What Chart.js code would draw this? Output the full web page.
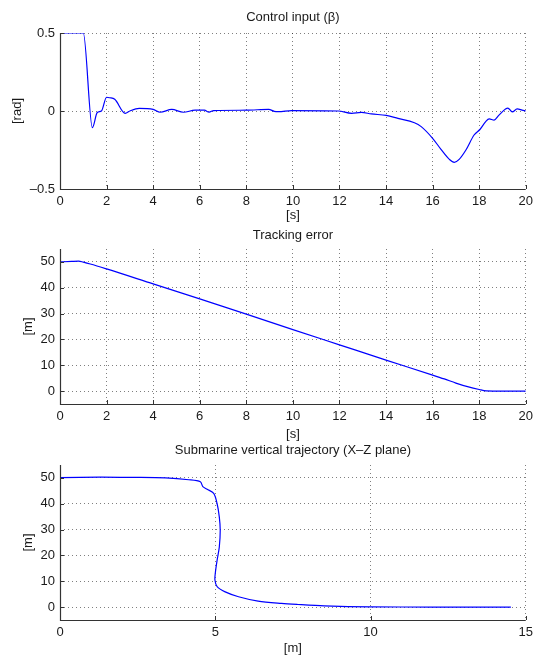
<!DOCTYPE html>
<html>
<head>
<meta charset="utf-8">
<script src="https://cdn.jsdelivr.net/npm/chart.js@4"></script>
<style>
  html, body { margin: 0; padding: 0; background: #fff; }
  #wrap { position: relative; width: 538px; height: 655px; overflow: hidden; }
  canvas { position: absolute; left: 0; }
</style>
</head>
<body>
<div id="wrap">
  <canvas id="c1" width="538" height="222" style="top:0px"></canvas>
  <canvas id="c2" width="538" height="220" style="top:222px"></canvas>
  <canvas id="c3" width="538" height="213" style="top:442px"></canvas>
</div>
<script>
// ---- Data: control input beta [rad] vs time [s]
const betaTime = [0, 1.0, 1.39, 1.6, 1.78, 2.0, 2.13, 2.35, 2.8, 3.0, 3.4, 4.0, 4.3, 4.8, 5.3, 5.8, 6.2, 6.4, 6.6, 8.0, 8.96, 9.2, 9.38, 9.95, 11.95, 12.52, 12.94, 13.37, 14.01, 14.51, 15.22, 15.51, 16.0, 16.36, 16.72, 16.93, 17.14, 17.43, 17.78, 18.04, 18.28, 18.43, 18.64, 18.85, 19.13, 19.23, 19.42, 19.63, 19.84, 20];
const betaValues = [0.5, 0.5, -0.107, -0.01, 0, 0.088, 0.085, 0.075, -0.015, 0, 0.017, 0.01, -0.008, 0.01, -0.008, 0.005, 0.005, -0.007, 0.003, 0.005, 0.011, -0.002, -0.004, 0.003, 0, -0.015, -0.009, -0.019, -0.028, -0.047, -0.075, -0.1, -0.175, -0.246, -0.31, -0.329, -0.31, -0.25, -0.154, -0.117, -0.068, -0.051, -0.058, -0.026, 0.013, 0.019, -0.006, 0.013, 0.006, 0];

// ---- Data: tracking error [m] vs time [s]
const errTime = [0, 0.5, 0.8, 1.0, 1.3, 2, 4, 6, 8, 10, 12, 14, 16, 16.5, 17, 17.5, 18, 18.3, 19, 20];
const errValues = [50, 50.2, 50.3, 49.9, 49.2, 47.3, 41.5, 35.7, 29.8, 23.8, 17.9, 12.0, 6.2, 4.7, 3.1, 1.7, 0.6, 0.1, 0, 0];

// ---- Data: submarine trajectory X [m], Z [m]
const trajX = [0, 1.28, 2.34, 3.4, 4.15, 4.52, 4.6, 4.74, 4.95, 5.06, 5.13, 5.16, 5.13, 5.06, 5.0, 4.99, 5.06, 5.32, 5.75, 6.38, 7.13, 7.66, 8.51, 10, 12, 14.52];
const trajZ = [50.1, 50.3, 50.2, 50.0, 49.3, 48.5, 46.6, 45.6, 44.0, 40.0, 34.9, 29.7, 23.2, 18.2, 13.0, 10.4, 7.9, 5.9, 4.0, 2.3, 1.4, 1.0, 0.5, 0.1, 0.02, 0];

// ---- Tick values
const ticksTimeX = [0, 2, 4, 6, 8, 10, 12, 14, 16, 18, 20];
const ticksBetaY = [-0.5, 0, 0.5];
const ticksErrY = [0, 10, 20, 30, 40, 50];
const ticksTrajX = [0, 5, 10, 15];
const ticksTrajY = [0, 10, 20, 30, 40, 50];

const FONT = "'Liberation Sans', Arial, Helvetica, sans-serif";
const TXT = '#1a1a1a';
const fmt = v => (v < 0 ? '\u2013' + Math.abs(v) : String(v));

const inwardTicks = {
  id: 'inwardTicks',
  afterDraw(chart) {
    const ctx = chart.ctx, xs = chart.scales.x, ys = chart.scales.y;
    const a = chart.chartArea;
    ctx.save();
    ctx.strokeStyle = '#333';
    ctx.lineWidth = 1;
    ctx.beginPath();
    xs.ticks.forEach(t => {
      const px = Math.round(xs.getPixelForValue(t.value)) + 0.5;
      ctx.moveTo(px, a.bottom); ctx.lineTo(px, a.bottom - 4);
    });
    ys.ticks.forEach(t => {
      const py = Math.round(ys.getPixelForValue(t.value)) + 0.5;
      ctx.moveTo(a.left, py); ctx.lineTo(a.left + 4, py);
    });
    ctx.stroke();
    // solid axis lines (left and bottom)
    ctx.lineWidth = 1.2; ctx.setLineDash([]);
    ctx.beginPath();
    ctx.moveTo(a.left + 0.5, a.top); ctx.lineTo(a.left + 0.5, a.bottom + 0.5);
    ctx.lineTo(a.right, a.bottom + 0.5);
    ctx.stroke();
    ctx.restore();
  }
};

// Title centred over the plot area (as in the reference)
const areaTitle = {
  id: 'areaTitle',
  afterDraw(chart, args, opts) {
    const ctx = chart.ctx, a = chart.chartArea;
    ctx.save();
    ctx.fillStyle = TXT;
    ctx.font = '13px ' + FONT;
    ctx.textAlign = 'center';
    ctx.textBaseline = 'middle';
    ctx.fillText(opts.text, (a.left + a.right) / 2, opts.y);
    ctx.restore();
  }
};

function makeChart(id, o) {
  const pts = o.xs.map((x, i) => ({x: x, y: o.ys[i]}));
  return new Chart(document.getElementById(id), {
    type: 'scatter',
    data: { datasets: [{
      data: pts, showLine: true, pointRadius: 0,
      borderColor: '#0000ff', borderWidth: 1.2,
      tension: o.tension, cubicInterpolationMode: o.cubic || 'default'
    }]},
    plugins: [inwardTicks, areaTitle],
    options: {
      responsive: false, animation: false, devicePixelRatio: 1,
      layout: { padding: { left: 0, right: 9, top: o.padTop, bottom: 0 } },
      plugins: {
        legend: { display: false }, tooltip: { enabled: false },
        title: { display: false },
        areaTitle: { text: o.title, y: o.titleY }
      },
      scales: {
        x: {
          type: 'linear', min: o.xmin, max: o.xmax,
          afterBuildTicks: s => { s.ticks = o.xticks.map(v => ({value: v})); },
          afterFit: s => { s.height = o.xh; },
          grid: { color: 'rgba(0,0,0,0.5)', lineWidth: 1, drawTicks: false },
          border: { display: false, dash: [1, 3] },
          ticks: { color: TXT, font: { family: FONT, size: 13 }, padding: 5, maxRotation: 0, autoSkip: false, callback: fmt },
          title: { display: true, text: o.xlabel, color: TXT, font: { family: FONT, size: 13, lineHeight: 1 }, padding: { top: 0, bottom: o.xtp } }
        },
        y: {
          type: 'linear', min: o.ymin, max: o.ymax,
          afterBuildTicks: s => { s.ticks = o.yticks.map(v => ({value: v})); },
          afterFit: s => { s.width = 60; },
          grid: { color: 'rgba(0,0,0,0.5)', lineWidth: 1, drawTicks: false },
          border: { display: false, dash: [1, 3] },
          ticks: { color: TXT, font: { family: FONT, size: 13 }, padding: 5, autoSkip: false, callback: fmt },
          title: { display: true, text: o.ylabel, color: TXT, font: { family: FONT, size: 13, lineHeight: 1 }, padding: { top: o.ytp, bottom: 0 } }
        }
      }
    }
  });
}

makeChart('c1', {
  title: 'Control input (\u03B2)', titleY: 17, padTop: 33,
  xs: betaTime, ys: betaValues, tension: 0, cubic: 'monotone',
  xmin: 0, xmax: 20, ymin: -0.5, ymax: 0.5,
  xticks: ticksTimeX, yticks: ticksBetaY,
  xlabel: '[s]', ylabel: '[rad]', xh: 33, xtp: 0, ytp: 10.5
});
makeChart('c2', {
  title: 'Tracking error', titleY: 13, padTop: 27,
  xs: errTime, ys: errValues, tension: 0, cubic: 'monotone',
  xmin: 0, xmax: 20, ymin: -5, ymax: 55,
  xticks: ticksTimeX, yticks: ticksErrY,
  xlabel: '[s]', ylabel: '[m]', xh: 38, xtp: 1.5, ytp: 21.5
});
makeChart('c3', {
  title: 'Submarine vertical trajectory (X\u2013Z plane)', titleY: 8, padTop: 23,
  xs: trajX, ys: trajZ, tension: 0.3,
  xmin: 0, xmax: 15, ymin: -5, ymax: 55,
  xticks: ticksTrajX, yticks: ticksTrajY,
  xlabel: '[m]', ylabel: '[m]', xh: 35, xtp: 0.5, ytp: 21.5
});
</script>
</body>
</html>
